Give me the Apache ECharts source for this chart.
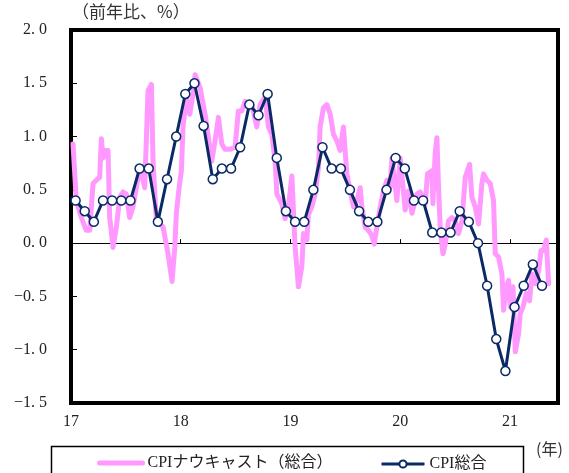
<!DOCTYPE html>
<html>
<head>
<meta charset="utf-8">
<script src="https://cdn.jsdelivr.net/npm/echarts@6/dist/echarts.min.js"></script>
<style>
  html, body { margin: 0; padding: 0; background: #fff; }
  #chart { width: 569px; height: 473px; }
</style>
</head>
<body>
<div id="chart"></div>
<script>
// Year tick labels (x value = months since Jan 2017)
const yearLabels = ['17', '18', '19', '20', '21'];

// CPI (all items), y/y %, monthly Jan 2017 – Apr 2021
const cpiTotal = [
  0.4, 0.3, 0.2, 0.4, 0.4, 0.4, 0.4, 0.7, 0.7, 0.2, 0.6, 1.0,
  1.4, 1.5, 1.1, 0.6, 0.7, 0.7, 0.9, 1.3, 1.2, 1.4, 0.8, 0.3,
  0.2, 0.2, 0.5, 0.9, 0.7, 0.7, 0.5, 0.3, 0.2, 0.2, 0.5, 0.8,
  0.7, 0.4, 0.4, 0.1, 0.1, 0.1, 0.3, 0.2, 0.0, -0.4, -0.9, -1.2,
  -0.6, -0.4, -0.2, -0.4
];

// CPI nowcast (all items): observation time in months since Jan 2017, and y/y %
const nowcastT = [
  0.22, 0.58, 1.13, 1.67, 2.05, 2.41, 2.77, 3.14, 3.32, 3.50, 3.69, 4.05,
  4.23, 4.60, 4.96, 5.33, 5.69, 6.05, 6.42, 6.78, 7.14, 7.52, 8.06, 8.42,
  8.79, 8.97, 9.33, 10.07, 10.61, 11.05, 11.35, 11.52, 11.82, 12.07, 12.25, 12.61,
  12.99, 13.35, 13.57, 14.11, 14.66, 15.02, 15.39, 15.75, 16.12, 16.49, 16.85, 17.40,
  17.94, 18.30, 18.68, 19.04, 19.77, 20.32, 20.68, 21.23, 21.59, 21.96, 22.32, 22.51,
  23.05, 23.41, 23.77, 24.15, 24.51, 24.87, 25.24, 25.42, 25.79, 25.96, 26.33, 26.70,
  27.06, 27.24, 27.60, 27.98, 28.34, 28.70, 29.07, 29.43, 29.79, 29.98, 30.16, 30.52,
  30.89, 31.26, 31.62, 31.80, 32.17, 32.53, 32.90, 33.15, 33.45, 33.81, 34.17, 34.54,
  34.90, 35.09, 35.63, 36.00, 36.54, 36.90, 37.28, 37.82, 38.18, 38.73, 38.98, 39.46,
  39.57, 39.82, 40.01, 40.19, 40.37, 40.67, 40.92, 41.28, 41.65, 42.01, 42.37, 42.75,
  43.11, 43.58, 43.84, 44.20, 44.56, 44.93, 45.11, 45.48, 45.84, 46.20, 46.39, 46.75,
  47.12, 47.30, 47.59, 47.85, 48.03, 48.33, 48.58, 48.94, 49.12, 49.42, 49.78, 50.14,
  50.40, 50.77, 51.13, 51.39, 51.67, 51.97, 52.22
];
const nowcastValue = [
  0.93, 0.40, 0.24, 0.12, 0.12, 0.56, 0.59, 0.62, 0.98, 0.80, 0.87, 0.87,
  0.24, -0.04, 0.15, 0.43, 0.48, 0.46, 0.24, 0.34, 0.52, 0.71, 0.52, 1.43,
  1.49, 0.77, 0.21, 0.15, -0.10, -0.36, -0.04, 0.28, 0.52, 0.68, 1.09, 1.37,
  1.21, 1.40, 1.58, 1.46, 1.21, 0.99, 0.77, 0.96, 1.18, 0.93, 0.88, 0.88,
  0.90, 1.24, 1.24, 1.33, 1.30, 1.09, 1.30, 1.37, 1.09, 1.02, 0.77, 0.46,
  0.37, 0.23, 0.34, 0.63, -0.04, -0.41, -0.22, 0.09, 0.03, 0.27, 0.34, 0.46,
  0.71, 1.09, 1.27, 1.30, 1.21, 1.02, 0.96, 0.87, 1.09, 1.09, 0.65, 0.49,
  0.34, 0.40, 0.52, 0.34, 0.15, 0.12, 0.07, -0.01, 0.15, 0.34, 0.49, 0.59,
  0.52, 0.80, 0.40, 0.80, 0.31, 0.49, 0.28, 0.46, 0.48, 0.37, 0.65, 0.68,
  0.37, 0.84, 0.99, 0.52, 0.15, -0.10, -0.01, 0.21, 0.24, 0.21, 0.09, 0.21,
  0.62, 0.74, 0.43, 0.34, 0.18, 0.56, 0.65, 0.59, 0.56, 0.40, -0.10, -0.13,
  -0.29, -0.63, -0.41, -0.35, -0.60, -0.41, -1.02, -0.85, -0.66, -0.60, -0.47, -0.54,
  -0.29, -0.38, -0.26, -0.07, -0.07, 0.03, -0.38
];

const NAVY = '#0a2a66';
const PINK = '#ff99ff';
const SERIF = '"Liberation Serif", "Noto Sans CJK JP", serif';
const CJK = '"Noto Sans CJK JP", sans-serif';

function yLabel(v) {
  const s = Math.abs(v).toFixed(1).replace('.', '. ');
  return (v < 0 ? '\u2212' : '') + s;
}

const chart = echarts.init(document.getElementById('chart'), null, { renderer: 'canvas' });

chart.setOption({
  animation: false,
  backgroundColor: '#fff',
  grid: {
    left: 71, top: 30, width: 487, height: 373,
    show: true, borderColor: '#000', borderWidth: 4, backgroundColor: 'transparent'
  },
  xAxis: [
    {
      // zero line with upward year ticks
      type: 'value', min: 0, max: 53.25, interval: 12,
      position: 'bottom',
      axisLine: { show: true, onZero: true, lineStyle: { color: '#000', width: 1 } },
      axisTick: { show: true, inside: true, length: 4, lineStyle: { color: '#000', width: 1 } },
      axisLabel: { show: false },
      splitLine: { show: false }
    },
    {
      // year labels under the frame
      type: 'value', min: 0, max: 53.25, interval: 12,
      position: 'bottom',
      axisLine: { show: false, onZero: false },
      axisTick: { show: false },
      splitLine: { show: false },
      axisLabel: {
        show: true, margin: 11, showMaxLabel: false,
        color: '#222', fontFamily: SERIF, fontSize: 16,
        formatter: v => yearLabels[Math.round(v / 12)] ?? ''
      }
    }
  ],
  yAxis: {
    type: 'value', min: -1.5, max: 2.0, interval: 0.5,
    axisLine: { show: false },
    axisTick: { show: true, inside: true, length: 6, lineStyle: { color: '#000', width: 1 } },
    splitLine: { show: false },
    axisLabel: {
      margin: 24, color: '#222', fontFamily: SERIF, fontSize: 16,
      formatter: yLabel
    }
  },
  legend: [
    {
      data: ['CPIナウキャスト（総合）'],
      left: 97, top: 455, padding: 0,
      itemWidth: 43, itemHeight: 12,
      itemStyle: { color: 'transparent', borderWidth: 0 },
      lineStyle: { width: 5, cap: 'round' },
      textStyle: { color: '#222', fontFamily: SERIF, fontSize: 16 }
    },
    {
      data: ['CPI総合'],
      left: 380, top: 456, padding: 0,
      itemWidth: 43, itemHeight: 9,
      lineStyle: { width: 3 },
      textStyle: { color: '#222', fontFamily: SERIF, fontSize: 16 }
    }
  ],
  graphic: [
    {
      type: 'text', left: 72, top: 3,
      style: { text: '（前年比、%）', fill: '#333', font: '17px ' + CJK }
    },
    {
      type: 'text', left: 536, top: 441,
      style: { text: '(年)', fill: '#333', font: '16px ' + CJK }
    },
    {
      type: 'rect', silent: true,
      shape: { x: 51.5, y: 446.5, width: 472, height: 40 },
      style: { fill: 'none', stroke: '#000', lineWidth: 1.5 }
    }
  ],
  series: [
    {
      name: 'CPIナウキャスト（総合）',
      type: 'line',
      xAxisIndex: 0,
      data: nowcastT.map((t, i) => [t, nowcastValue[i]]),
      symbol: 'none',
      showSymbol: false,
      lineStyle: { color: PINK, width: 5, join: 'round', cap: 'round' },
      itemStyle: { color: PINK },
      z: 2
    },
    {
      name: 'CPI総合',
      type: 'line',
      xAxisIndex: 0,
      data: cpiTotal.map((v, i) => [i + 0.5, v]),
      symbol: 'circle',
      symbolSize: 9,
      lineStyle: { color: NAVY, width: 3 },
      itemStyle: { color: '#fff', borderColor: NAVY, borderWidth: 1.5 },
      z: 3
    }
  ]
});
</script>
</body>
</html>
